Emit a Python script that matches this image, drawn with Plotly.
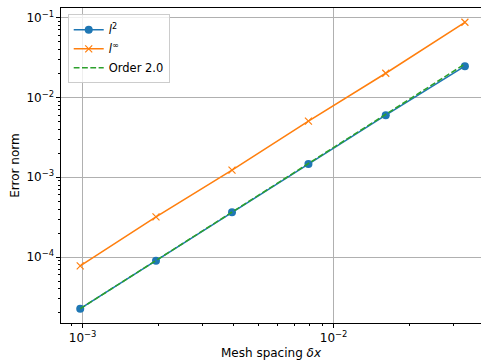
import plotly.graph_objects as go

dx = [1/1022, 1/510, 1/254, 1/126, 1/62, 1/30]
err_l2 = [2.26e-5, 9.0e-5, 3.65e-4, 1.47e-3, 6.0e-3, 2.46e-2]
err_linf = [7.78e-5, 3.19e-4, 1.23e-3, 5.05e-3, 2.01e-2, 8.73e-2]
order = 2.0
order_ref = [err_l2[0] * (d / dx[0]) ** order for d in dx]

x_major = [1e-3, 1e-2]
x_major_text = ["10<sup>−3</sup>", "10<sup>−2</sup>"]
y_major = [1e-4, 1e-3, 1e-2, 1e-1]
y_major_text = ["10<sup>−4</sup>", "10<sup>−3</sup>", "10<sup>−2</sup>", "10<sup>−1</sup>"]

x_minor = [9e-4] + [m * 1e-3 for m in range(2, 10)] + [2e-2, 3e-2]
y_minor = [m * 10.0 ** k for k in (-5, -4, -3, -2) for m in range(2, 10)]

FONT = "DejaVu Sans"
FS = 12
fig = go.Figure()
fig.add_trace(go.Scatter(x=dx, y=err_l2, mode="lines+markers", name="<i>l</i><sup>2</sup>",
                         line=dict(color="#1f77b4", width=1.56),
                         marker=dict(symbol="circle", size=8, color="#1f77b4")))
fig.add_trace(go.Scatter(x=dx, y=err_linf, mode="lines+markers", name="<i>l</i><sup>∞</sup>",
                         line=dict(color="#ff7f0e", width=1.56),
                         marker=dict(symbol="x-thin", size=7, color="#ff7f0e",
                                     line=dict(color="#ff7f0e", width=1.2))))
fig.add_trace(go.Scatter(x=dx, y=order_ref, mode="lines", name="Order 2.0",
                         line=dict(color="#2ca02c", width=1.56, dash="5.8px,2.5px")))

axis_common = dict(type="log", showline=True, linecolor="black", linewidth=0.9,
                   ticks="outside", ticklen=3.6, tickwidth=0.9, tickcolor="black",
                   showgrid=True, gridcolor="#b0b0b0", gridwidth=0.8, zeroline=False,
                   tickfont=dict(family=FONT, size=FS, color="black"),
                   tickmode="array")

fig.update_xaxes(**axis_common, range=[-3.086, -1.413], tickvals=x_major, ticktext=x_major_text,
                 mirror=True,
                 minor=dict(tickmode="array", tickvals=x_minor, ticks="outside", ticklen=2.1,
                            tickwidth=0.7, tickcolor="black", showgrid=False),
                 title=dict(text="Mesh spacing <i>δx</i>", font=dict(family=FONT, size=FS, color="black"),
                            standoff=4))
fig.update_yaxes(**axis_common, range=[-4.825, -0.880], tickvals=y_major, ticktext=y_major_text,
                 mirror=False,
                 minor=dict(tickmode="array", tickvals=y_minor, ticks="outside", ticklen=2.1,
                            tickwidth=0.7, tickcolor="black", showgrid=False),
                 title=dict(text="Error norm", font=dict(family=FONT, size=FS, color="black"),
                            standoff=4))

fig.update_layout(width=481, height=360, margin=dict(l=61, r=0, t=8, b=37, autoexpand=False),
                  paper_bgcolor="white", plot_bgcolor="white",
                  font=dict(family=FONT, size=FS, color="black"),
                  legend=dict(x=0.016, y=0.98, xanchor="left", yanchor="top",
                              bgcolor="rgba(255,255,255,0.8)", bordercolor="#cccccc", borderwidth=1,
                              font=dict(family=FONT, size=11.5), tracegroupgap=0, itemwidth=30))
fig.write_html("out.html")
